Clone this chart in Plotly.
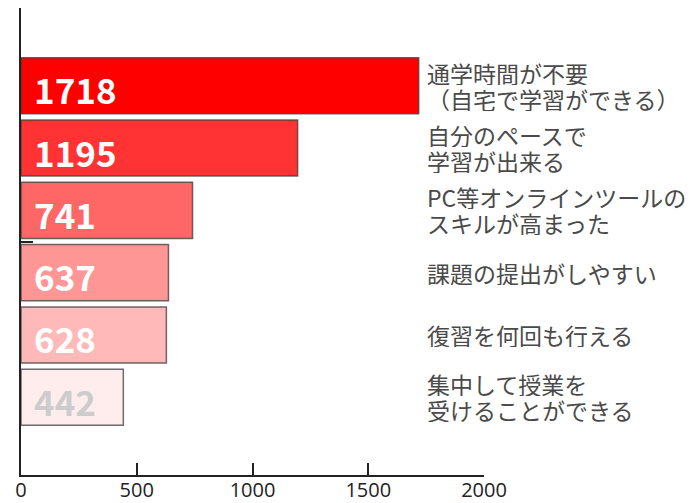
import plotly.graph_objects as go

# Survey responses: merits of online classes
categories = [
    "通学時間が不要<br>（自宅で学習ができる）",
    "自分のペースで<br>学習が出来る",
    "PC等オンラインツールの<br>スキルが高まった",
    "課題の提出がしやすい",
    "復習を何回も行える",
    "集中して授業を<br>受けることができる",
]
counts = [1718, 1195, 741, 637, 628, 442]
bar_colors = ["#ff0000", "#ff3333", "#ff6666", "#ff9696", "#ffb9b9", "#ffeded"]
label_colors = ["white", "white", "white", "white", "white", "#cccccc"]

positions = list(range(len(counts)))
FONT = "Noto Sans CJK JP"

fig = go.Figure()
fig.add_trace(go.Bar(
    x=counts,
    y=positions,
    orientation="h",
    width=0.9,
    marker=dict(color=bar_colors, line=dict(color="rgba(60,60,60,0.75)", width=1.5)),
    textposition="none",
    hoverinfo="skip",
))

# value labels at the left end of each bar
for pos, val, col in zip(positions, counts, label_colors):
    fig.add_annotation(
        x=0, xref="x", y=pos, yref="y", xshift=11, yshift=-3,
        text=f"<b>{val}</b>", showarrow=False, xanchor="left", yanchor="middle",
        font=dict(family=FONT, size=35, color=col),
    )

# category labels to the right of the bars, one line per annotation
LINE_STEP = 26
for pos, cat in zip(positions, categories):
    lines = cat.split("<br>")
    n = len(lines)
    for i, line in enumerate(lines):
        offset = ((n - 1) / 2 - i) * LINE_STEP
        fig.add_annotation(
            x=0.875, xref="paper", y=pos, yref="y", yshift=offset,
            text=line, showarrow=False, xanchor="left", yanchor="middle",
            align="left", valign="middle", height=LINE_STEP - 2, borderpad=0,
            font=dict(family=FONT, size=23, color="#4a4a4a"),
        )

fig.update_layout(
    width=691, height=503,
    margin=dict(l=21, r=207, t=8, b=28),
    paper_bgcolor="white", plot_bgcolor="white",
    showlegend=False,
)
fig.update_xaxes(
    range=[0, 2000], tickvals=[0, 500, 1000, 1500, 2000],
    ticks="inside", ticklen=12, tickcolor="#222222", tickwidth=1.5,
    showline=True, linecolor="#222222", linewidth=1.5,
    showgrid=False, zeroline=False, automargin=False,
    ticklabelstandoff=-4,
    tickfont=dict(family="Open Sans", size=20, color="#222222"),
)
fig.update_yaxes(
    range=[6.25, -1.25], tickvals=[2.5], ticktext=[""],
    ticks="inside", ticklen=12, tickcolor="#222222", tickwidth=1.5,
    showline=True, linecolor="#222222", linewidth=1.5,
    showgrid=False, zeroline=False, automargin=False,
)

fig.write_html("out.html")
